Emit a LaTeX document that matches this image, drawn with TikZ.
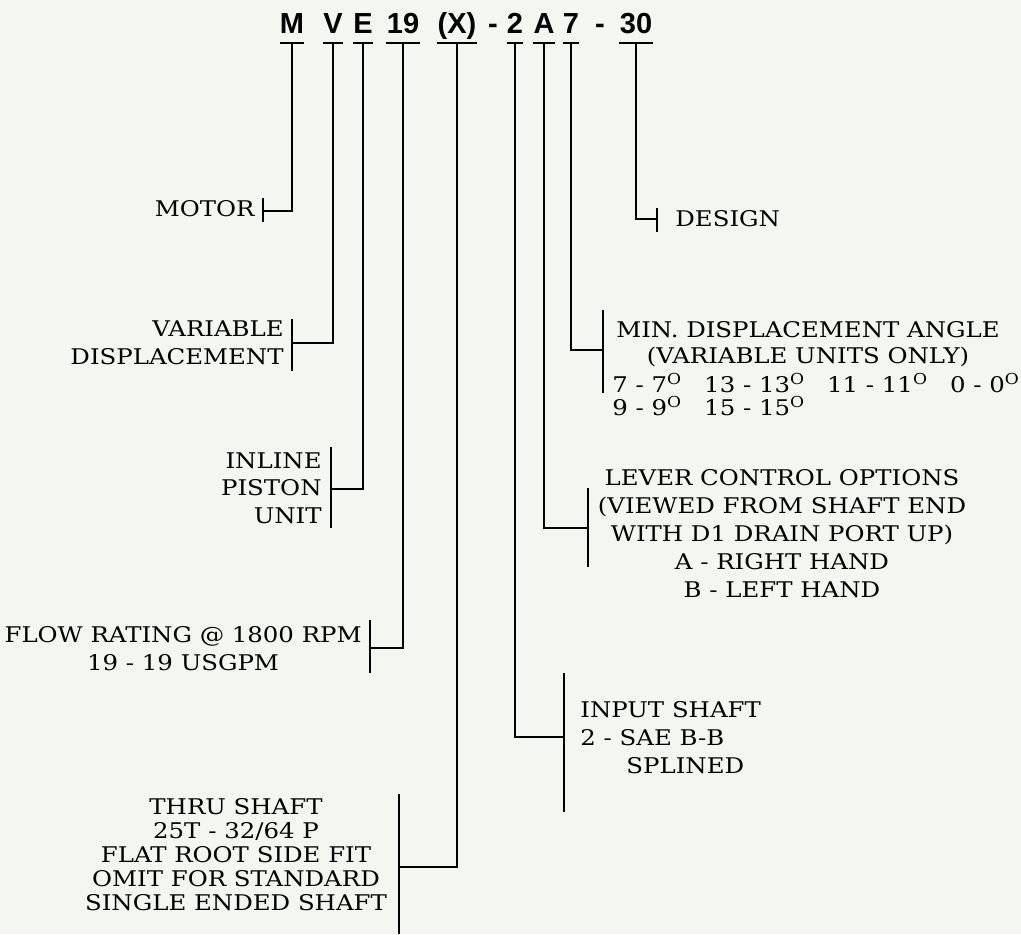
\documentclass[tikz,border=0pt]{standalone}
\usepackage{fontspec}
\setmainfont{DejaVu Serif}[FakeStretch=1.13]
\newfontfamily\codefont{Liberation Sans}
\usetikzlibrary{positioning}
\definecolor{paper}{RGB}{244,246,242}
\tikzset
{
    codepart/.style = {font=\codefont\bfseries\fontsize{14.5}{14.5}\selectfont, inner sep=0pt, anchor=base},
    tag/.style      = {font=\fontsize{10.8}{13.75}\selectfont, inner sep=0pt, anchor=base east, align=right},
    tagleft/.style  = {tag, anchor=base west, align=left},
    tagmid/.style   = {tag, anchor=base, align=center},
    leader/.style   = {line width=0.9pt},
    teebar/.style   = {line width=0.9pt}
}
\newcommand\dg{\textsuperscript{O}}

\begin{document}
\begin{tikzpicture}[x=0.5pt, y=-0.5pt]
   \newcommand\TEEY{43}
   \newcommand\CODEY{33}

   \fill[paper] (0,0) rectangle (1021,934);
   \useasboundingbox (0,0) rectangle (1021,934);

   % model code
   \node (codeM)  [codepart] at (292, \CODEY) {M};
   \node (codeV)  [codepart] at (333, \CODEY) {V};
   \node (codeE)  [codepart] at (363, \CODEY) {E};
   \node (code19) [codepart] at (403, \CODEY) {19};
   \node (codeX)  [codepart] at (457, \CODEY) {(X)};
   \node (dashA)  [codepart] at (493, \CODEY) {-};
   \node (code2)  [codepart] at (515, \CODEY) {2};
   \node (codeA)  [codepart] at (544, \CODEY) {A};
   \node (code7)  [codepart] at (571, \CODEY) {7};
   \node (dashB)  [codepart] at (600, \CODEY) {-};
   \node (code30) [codepart] at (636, \CODEY) {30};

   \foreach \c in {M,V,E,19,X,2,A,7,30}
      \draw[teebar] (code\c.west |- 0,\TEEY) -- (code\c.east |- 0,\TEEY);

   % labels (placed by the baseline of their last line)
   \node (motor)   [tag]     at (255, 216) {MOTOR};
   \node (vardisp) [tag]     at (284, 364) {VARIABLE\\DISPLACEMENT};
   \node (inline)  [tag]     at (322, 523) {INLINE\\PISTON\\UNIT};
   \node (flow)    [tag, align=center] at (362, 670) {FLOW RATING @ 1800 RPM\\19 - 19 USGPM};
   \node (thru)    [tagmid, font=\fontsize{10.8}{12}\selectfont] at (236, 910)
         {THRU SHAFT\\25T - 32/64 P\\FLAT ROOT SIDE FIT\\OMIT FOR STANDARD\\SINGLE ENDED SHAFT};
   \node (input)   [tagleft, font=\fontsize{10.8}{14}\selectfont] at (580, 773)
         {INPUT SHAFT\\2 - SAE B-B\\\hspace*{23pt}SPLINED};
   \node (lever)   [tagmid, font=\fontsize{10.8}{14}\selectfont] at (782, 597)
         {LEVER CONTROL OPTIONS\\(VIEWED FROM SHAFT END\\WITH D1 DRAIN PORT UP)\\A - RIGHT HAND\\B - LEFT HAND};
   \node (minangle) [tagmid, font=\fontsize{10.8}{13}\selectfont] at (808, 363)
         {MIN. DISPLACEMENT ANGLE\\(VARIABLE UNITS ONLY)};
   \node (angles)  [tagleft, font=\fontsize{10.8}{11.5}\selectfont] at (612, 415)
         {7 - 7\dg\hspace{11pt}13 - 13\dg\hspace{11pt}11 - 11\dg\hspace{11pt}0 - 0\dg\\9 - 9\dg\hspace{11pt}15 - 15\dg};
   \node (design)  [tagleft] at (675, 226) {DESIGN};

   % brackets beside the labels
   \coordinate (motorTop) at (263, 198);   \coordinate (motorBot) at (263, 222);   \coordinate (motorTie) at (263, 211);
   \coordinate (vardTop)  at (292, 319);   \coordinate (vardBot)  at (292, 371);   \coordinate (vardTie)  at (292, 343);
   \coordinate (inlTop)   at (331, 447);   \coordinate (inlBot)   at (331, 528);   \coordinate (inlTie)   at (331, 489);
   \coordinate (flowTop)  at (370, 620);   \coordinate (flowBot)  at (370, 673);   \coordinate (flowTie)  at (370, 648);
   \coordinate (thruTop)  at (399, 794);   \coordinate (thruBot)  at (399, 934);   \coordinate (thruTie)  at (399, 867);
   \coordinate (inpTop)   at (564, 673);   \coordinate (inpBot)   at (564, 812);   \coordinate (inpTie)   at (564, 737);
   \coordinate (levTop)   at (588, 488);   \coordinate (levBot)   at (588, 567);   \coordinate (levTie)   at (588, 528);
   \coordinate (minTop)   at (603, 310);   \coordinate (minBot)   at (603, 393);   \coordinate (minTie)   at (603, 350);
   \coordinate (desTop)   at (657, 208);   \coordinate (desBot)   at (657, 232);   \coordinate (desTie)   at (657, 219);

   \foreach \b in {motor,vard,inl,flow,thru,inp,lev,min,des}
      \draw[leader] (\b Top) -- (\b Bot);

   % leaders from the code down to the brackets
   \draw[leader] (codeM  |- 0,\TEEY) |- (motorTie);
   \draw[leader] (codeV  |- 0,\TEEY) |- (vardTie);
   \draw[leader] (codeE  |- 0,\TEEY) |- (inlTie);
   \draw[leader] (code19 |- 0,\TEEY) |- (flowTie);
   \draw[leader] (codeX  |- 0,\TEEY) |- (thruTie);
   \draw[leader] (code2  |- 0,\TEEY) |- (inpTie);
   \draw[leader] (codeA  |- 0,\TEEY) |- (levTie);
   \draw[leader] (code7  |- 0,\TEEY) |- (minTie);
   \draw[leader] (code30 |- 0,\TEEY) |- (desTie);
\end{tikzpicture}
\end{document}
